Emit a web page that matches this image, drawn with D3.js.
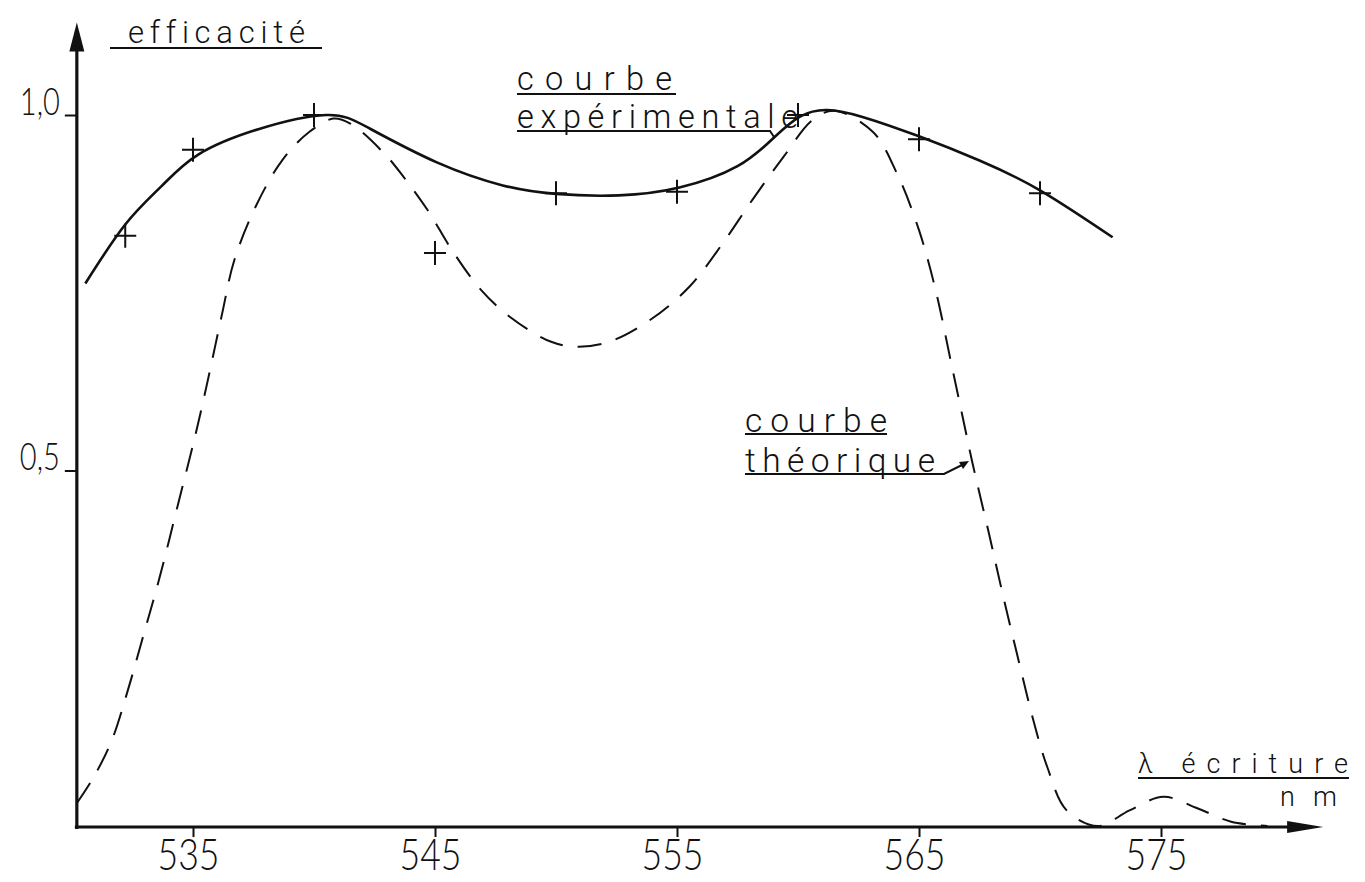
<!DOCTYPE html>
<html><head><meta charset="utf-8">
<script src="https://cdn.jsdelivr.net/npm/d3@7"></script>
<style>
html,body{margin:0;padding:0;background:#fff;}
svg{display:block;}
text{font-family:"Lato","DejaVu Sans",sans-serif;font-weight:300;fill:#111;font-variant-ligatures:none;font-feature-settings:"liga" 0;}
text.note{font-family:"Roboto","Lato",sans-serif;font-weight:300;}
</style></head><body>
<svg id="chart" width="1365" height="882"></svg>
<script>
// ---- data ----
const xTickValues = [535, 545, 555, 565, 575];
const yTickValues = [0.5, 1.0];
const xAxisStart = 530.2, xAxisEnd = 581.7;   // wavelength extent of the x axis
const yAxisTop = 1.13;                         // efficiency at the y axis arrow tip

// experimental measurements (+)
const expLambda = [532.2, 535, 540, 545, 550, 555, 560, 565, 570];
const expValue  = [0.830, 0.951, 1.0, 0.806, 0.890, 0.892, 1.0, 0.966, 0.890];

// experimental curve (solid)
const expCurveLambda = [530.55, 532.2, 533.7, 535.2, 537.7, 540.5, 542.3, 545.1, 547.8, 550.0, 552.6, 555.1, 557.5, 559.0, 560.1, 561.2, 562.7, 565.0, 567.5, 570.0, 573.0];
const expCurveValue  = [0.763, 0.846, 0.900, 0.944, 0.980, 1.0, 0.981, 0.933, 0.901, 0.889, 0.887, 0.898, 0.928, 0.968, 0.998, 1.007, 0.997, 0.970, 0.936, 0.894, 0.828];

// theoretical curve (dashed)
const theoLambda = [530.2, 530.9, 531.65, 532.3, 532.9, 533.6, 534.4, 535.1, 535.6, 536.2, 536.7, 537.6, 538.7, 539.8, 540.8, 541.5, 542.9, 543.7, 544.7, 545.7, 546.9, 548.1, 549.8, 550.9, 552.2, 553.9, 555.5, 556.9, 558.1, 559.4, 560.6, 561.5, 563.1, 564.1, 565.0, 565.7, 566.3, 566.8, 567.2, 567.9, 568.5, 569.1, 569.7, 570.3, 571.1, 572.4, 573.7, 575.1, 576.5, 577.9, 579.4];
const theoValue  = [0.032, 0.069, 0.121, 0.190, 0.262, 0.347, 0.455, 0.550, 0.625, 0.720, 0.795, 0.872, 0.937, 0.976, 0.995, 0.988, 0.946, 0.913, 0.866, 0.810, 0.754, 0.716, 0.681, 0.674, 0.681, 0.712, 0.758, 0.820, 0.880, 0.941, 0.993, 1.006, 0.976, 0.917, 0.838, 0.752, 0.656, 0.576, 0.512, 0.410, 0.320, 0.235, 0.152, 0.083, 0.022, 0.0, 0.022, 0.041, 0.025, 0.006, 0.0];

// ---- drawing ----
const svg = d3.select("#chart");
const x = d3.scaleLinear().domain([535, 575]).range([193, 1161]);
const y = d3.scaleLinear().domain([0, 1]).range([826, 115]);
const fr = d3.formatLocale({decimal: ",", thousands: " ", grouping: [3], currency: ["", "€"]});

const ink = "#111";
const x0 = x(xAxisStart), yBase = y(0) + 1;

// axis lines
svg.append("line").attr("x1", x0).attr("x2", x0).attr("y1", yBase + 2).attr("y2", y(yAxisTop) + 20)
  .attr("stroke", ink).attr("stroke-width", 3.2);
svg.append("line").attr("x1", x0 - 2).attr("x2", x(xAxisEnd) - 20).attr("y1", yBase).attr("y2", yBase)
  .attr("stroke", ink).attr("stroke-width", 3.2);
// arrowheads
const yt = y(yAxisTop);
svg.append("path").attr("d", `M${x0},${yt} L${x0 - 7.5},${yt + 29} L${x0 + 7.5},${yt + 29} Z`).attr("fill", ink);
const xt = x(xAxisEnd);
svg.append("path").attr("d", `M${xt},${yBase} L${xt - 36},${yBase - 6} L${xt - 36},${yBase + 6} Z`).attr("fill", ink);

// y axis ticks
const gy = svg.append("g").attr("transform", `translate(${x0},0)`)
  .call(d3.axisLeft(y).tickValues(yTickValues).tickSize(12).tickPadding(5).tickFormat(fr.format(".1f")));
gy.select(".domain").remove();
gy.selectAll(".tick line").attr("stroke", ink).attr("stroke-width", 2);
gy.selectAll(".tick text").attr("font-size", 38).attr("font-family", null).attr("dy", "0").attr("y", -1)
  .attr("textLength", 40).attr("lengthAdjust", "spacingAndGlyphs").attr("fill", ink);

// x axis ticks
const gx = svg.append("g").attr("transform", `translate(0,${yBase})`)
  .call(d3.axisBottom(x).tickValues(xTickValues).tickSize(10).tickPadding(2).tickFormat(d3.format("d")));
gx.select(".domain").remove();
gx.selectAll(".tick line").attr("stroke", ink).attr("stroke-width", 2);
gx.selectAll(".tick text").attr("font-size", 43).attr("font-family", null).attr("dx", -5)
  .attr("textLength", 62).attr("lengthAdjust", "spacingAndGlyphs").attr("fill", ink);

// curves
const dashedLine = d3.line().x(d => x(d[0])).y(d => y(d[1])).curve(d3.curveCatmullRom.alpha(0.5));
const solidLine = d3.line().x(d => x(d[0])).y(d => y(d[1])).curve(d3.curveNatural);
svg.append("path").datum(d3.zip(theoLambda, theoValue)).attr("d", dashedLine)
  .attr("fill", "none").attr("stroke", ink).attr("stroke-width", 2).attr("stroke-dasharray", "24 15");
svg.append("path").datum(d3.zip(expCurveLambda, expCurveValue)).attr("d", solidLine)
  .attr("fill", "none").attr("stroke", ink).attr("stroke-width", 2.6);

// measured points
svg.selectAll("path.pt").data(d3.zip(expLambda, expValue)).join("path").attr("class", "pt")
  .attr("transform", d => `translate(${x(d[0])},${y(d[1])})`)
  .attr("d", "M-11,0H11M0,-12V12").attr("stroke", ink).attr("stroke-width", 2).attr("fill", "none");

// annotations
function label(txt, px, py, size, width) {
  svg.append("text").attr("class", "note").attr("x", px).attr("y", py).attr("font-size", size)
    .attr("textLength", width).attr("lengthAdjust", "spacing").text(txt);
}
function rule(pts) {
  svg.append("path").attr("d", d3.line()(pts)).attr("fill", "none").attr("stroke", ink).attr("stroke-width", 2);
}
label("efficacité", 128, 43, 31, 177);
rule([[110, 48], [322, 48]]);

label("courbe", 517, 89.5, 32.5, 155);
label("expérimentale", 517, 128, 32.5, 281);
rule([[517, 94], [676, 94]]);
rule([[517, 131], [770, 131], [774, 137]]);

label("courbe", 745, 431.5, 33.5, 142);
label("théorique", 745, 471.5, 33.5, 190);
rule([[745, 434], [887, 434]]);
rule([[745, 474], [944, 474], [966, 463]]);
svg.append("path").attr("d", "M969,461 L959,462 L963,469 Z").attr("fill", ink);

label("λ écriture", 1138, 773, 27, 210);
label("nm", 1280, 805.5, 27, 57);
rule([[1138, 778], [1349, 778]]);
</script>
</body></html>
